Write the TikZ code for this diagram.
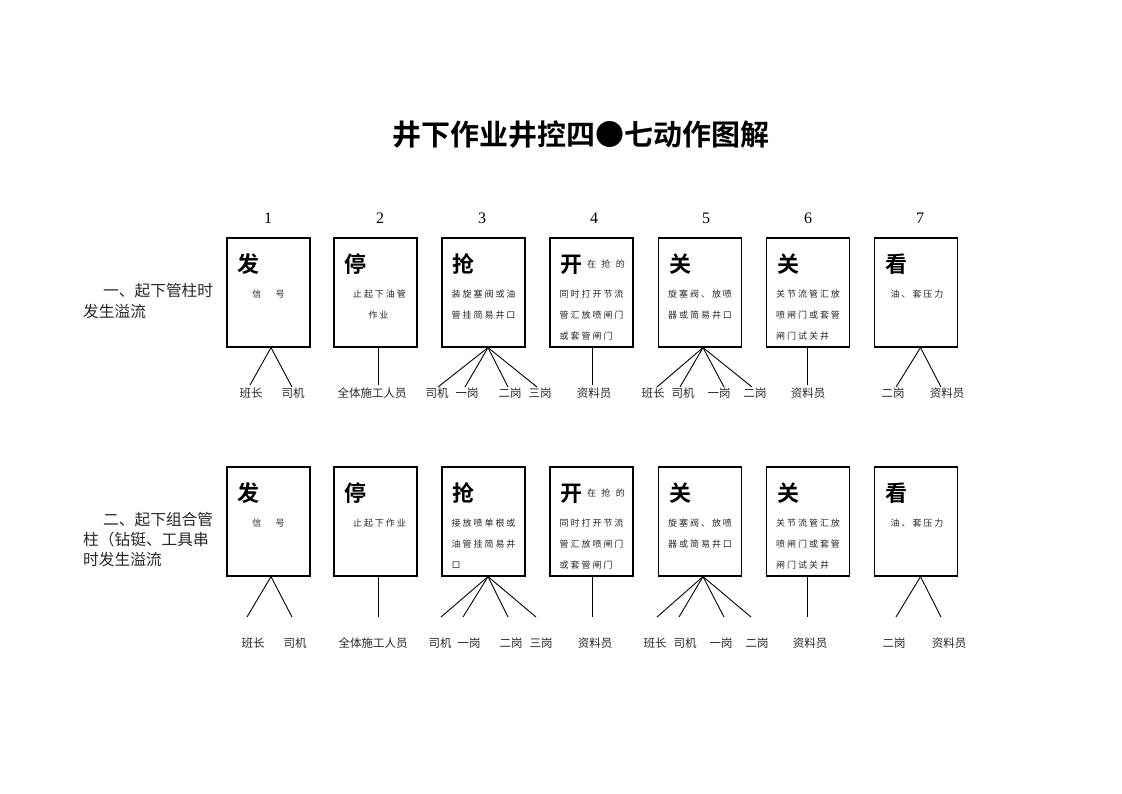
\documentclass[tikz,border=0pt]{standalone}
\usepackage{fontspec}
\setmainfont{Liberation Serif}
\newfontfamily\cjk[BoldFont={Noto Sans CJK SC Bold}]{Noto Sans CJK SC}

\tikzset{
    card/.style={draw,line width=1.2pt,minimum width=83pt,minimum height=109pt,inner sep=0pt},
    bigchar/.style={font=\cjk\bfseries\fontsize{22}{22}\selectfont,anchor=west,inner sep=0pt},
    duty/.style={font=\cjk\fontsize{9}{9}\selectfont\addfontfeature{LetterSpace=22},anchor=west,inner sep=0pt,text=black!85},
    dutyc/.style={duty,anchor=center},
    crew/.style={font=\cjk\fontsize{11.5}{11.5}\selectfont,inner sep=0pt,text=black!85},
    side/.style={font=\cjk\fontsize{15.7}{15.7}\selectfont,anchor=west,inner sep=0pt,text=black!85},
    link/.style={line width=0.9pt}
}

\begin{document}
\begin{tikzpicture}[x=1pt,y=-1pt]
    \useasboundingbox (0,0) rectangle (1122,793);
    \node [font=\cjk\bfseries\fontsize{29}{29}\selectfont,inner sep=0pt] (title) at (581,135) {井下作业井控四●七动作图解};

    % step numbers
    \foreach \i/\x in {1/268,2/380,3/482,4/594,5/706,6/808,7/920}
        \node [font=\fontsize{16}{16}\selectfont,inner sep=0pt] (n\i) at (\x,218) {\i};

    % cards of both rows
    \foreach \r/\y in {a/292.5,b/521.5} {
        \foreach \i/\x/\c in {1/268.5/发,2/375.5/停,3/483.5/抢,4/591.5/开,5/700/关,6/808/关,7/916/看} {
            \node [card] (\r\i) at (\x,\y) {};
            \node [bigchar] (\r\i c) at ([xshift=11pt,yshift=-27pt]\r\i.north west) {\c};
        }
        \node [dutyc] (\r1t) at ([yshift=-57pt]\r1.north) {信\hspace{1.6em}号};
        \node [duty,anchor=west,xshift=4pt] (\r4t) at (\r4c.east) {\addfontfeature{LetterSpace=60}在抢的};
        \node [duty] (\r4t1) at ([xshift=10pt,yshift=-57pt]\r4.north west) {同时打开节流};
        \node [duty] (\r4t2) at ([xshift=10pt,yshift=-78pt]\r4.north west) {管汇放喷闸门};
        \node [duty] (\r4t3) at ([xshift=10pt,yshift=-99pt]\r4.north west) {或套管闸门};
        \node [duty] (\r5t1) at ([xshift=10pt,yshift=-57pt]\r5.north west) {旋塞阀、放喷};
        \node [duty] (\r5t2) at ([xshift=10pt,yshift=-78pt]\r5.north west) {器或简易井口};
        \node [duty] (\r6t1) at ([xshift=10pt,yshift=-57pt]\r6.north west) {关节流管汇放};
        \node [duty] (\r6t2) at ([xshift=10pt,yshift=-78pt]\r6.north west) {喷闸门或套管};
        \node [duty] (\r6t3) at ([xshift=10pt,yshift=-99pt]\r6.north west) {闸门试关井};
        \node [dutyc] (\r7t) at ([xshift=1pt,yshift=-57pt]\r7.north) {油、套压力};
    }

    % row one texts
    \node [dutyc] (a2t1) at ([xshift=4pt,yshift=-57pt]a2.north) {止起下油管};
    \node [dutyc] (a2t2) at ([xshift=3pt,yshift=-78pt]a2.north) {作业};
    \node [duty] (a3t1) at ([xshift=10pt,yshift=-57pt]a3.north west) {装旋塞阀或油};
    \node [duty] (a3t2) at ([xshift=10pt,yshift=-78pt]a3.north west) {管挂简易井口};
    \node [side] (as1) at (103,291) {一、起下管柱时};
    \node [side] (as2) at (83,312) {发生溢流};

    % row two texts
    \node [dutyc] (b2t1) at ([xshift=4pt,yshift=-57pt]b2.north) {止起下作业};
    \node [duty] (b3t1) at ([xshift=10pt,yshift=-57pt]b3.north west) {接放喷单根或};
    \node [duty] (b3t2) at ([xshift=10pt,yshift=-78pt]b3.north west) {油管挂简易井};
    \node [duty] (b3t3) at ([xshift=10pt,yshift=-99pt]b3.north west) {口};
    \node [side] (bs1) at (103,520) {二、起下组合管};
    \node [side] (bs2) at (83,540) {柱（钻铤、工具串};
    \node [side] (bs3) at (83,560) {时发生溢流};

    % crew labels, row one
    \node [crew] (ak1) at (251,393) {班长};
    \node [crew] (ak2) at (293,393) {司机};
    \node [crew] (ak3) at (372,393) {全体施工人员};
    \node [crew] (ak4) at (437,393) {司机};
    \node [crew] (ak5) at (467,393) {一岗};
    \node [crew] (ak6) at (510,393) {二岗};
    \node [crew] (ak7) at (540,393) {三岗};
    \node [crew] (ak8) at (594,393) {资料员};
    \node [crew] (ak9) at (653,393) {班长};
    \node [crew] (ak10) at (683,393) {司机};
    \node [crew] (ak11) at (719,393) {一岗};
    \node [crew] (ak12) at (755,393) {二岗};
    \node [crew] (ak13) at (808,393) {资料员};
    \node [crew] (ak14) at (893,393) {二岗};
    \node [crew] (ak15) at (947,393) {资料员};

    % crew labels, row two
    \node [crew] (bk1) at (253,643) {班长};
    \node [crew] (bk2) at (295,643) {司机};
    \node [crew] (bk3) at (373,643) {全体施工人员};
    \node [crew] (bk4) at (440,643) {司机};
    \node [crew] (bk5) at (469,643) {一岗};
    \node [crew] (bk6) at (511,643) {二岗};
    \node [crew] (bk7) at (541,643) {三岗};
    \node [crew] (bk8) at (595,643) {资料员};
    \node [crew] (bk9) at (655,643) {班长};
    \node [crew] (bk10) at (685,643) {司机};
    \node [crew] (bk11) at (721,643) {一岗};
    \node [crew] (bk12) at (757,643) {二岗};
    \node [crew] (bk13) at (810,643) {资料员};
    \node [crew] (bk14) at (894,643) {二岗};
    \node [crew] (bk15) at (949,643) {资料员};

    % line ends, row one
    \coordinate (ae1) at (250,385);  \coordinate (ae2) at (292,387);
    \coordinate (ae3) at (378,385);
    \coordinate (ae4) at (438,387);  \coordinate (ae5) at (465,387);
    \coordinate (ae6) at (508,387);  \coordinate (ae7) at (537,387);
    \coordinate (ae8) at (592,385);
    \coordinate (ae9) at (657,387);  \coordinate (ae10) at (680,387);
    \coordinate (ae11) at (724,387); \coordinate (ae12) at (752,387);
    \coordinate (ae13) at (807,385);
    \coordinate (ae14) at (896,387); \coordinate (ae15) at (941,387);

    % line ends, row two
    \coordinate (be1) at (247,617);  \coordinate (be2) at (292,617);
    \coordinate (be3) at (378,617);
    \coordinate (be4) at (441,617);  \coordinate (be5) at (463,617);
    \coordinate (be6) at (508,617);  \coordinate (be7) at (536,617);
    \coordinate (be8) at (592,617);
    \coordinate (be9) at (657,617);  \coordinate (be10) at (679,617);
    \coordinate (be11) at (724,617); \coordinate (be12) at (751,617);
    \coordinate (be13) at (807,617);
    \coordinate (be14) at (896,617); \coordinate (be15) at (941,617);

    \foreach \r in {a,b} {
        \draw [link] ([xshift=2.5pt]\r1.south) -- (\r e1);
        \draw [link] ([xshift=2.5pt]\r1.south) -- (\r e2);
        \draw [link] ([xshift=2.5pt]\r2.south) -- (\r e3);
        \foreach \k in {4,5,6,7}
            \draw [link] ([xshift=4.5pt]\r3.south) -- (\r e\k);
        \draw [link] ([xshift=0.5pt]\r4.south) -- (\r e8);
        \foreach \k in {9,10,11,12}
            \draw [link] ([xshift=3pt]\r5.south) -- (\r e\k);
        \draw [link] ([xshift=-1pt]\r6.south) -- (\r e13);
        \draw [link] ([xshift=4.5pt]\r7.south) -- (\r e14);
        \draw [link] ([xshift=4.5pt]\r7.south) -- (\r e15);
    }
\end{tikzpicture}
\end{document}
